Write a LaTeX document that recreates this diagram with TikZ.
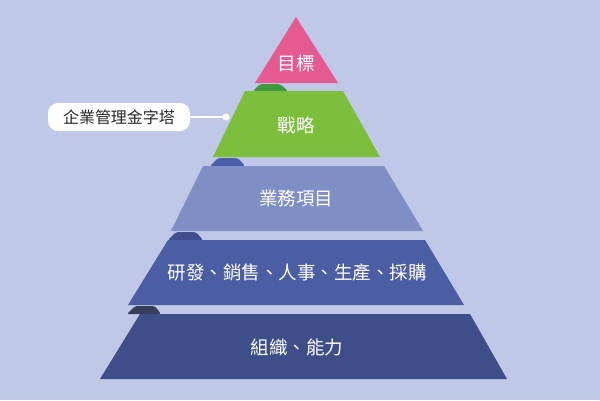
\documentclass[tikz,border=0pt]{standalone}
\usepackage{fontspec}
\setmainfont{Noto Sans CJK TC}
\begin{document}
\begin{tikzpicture}[x=1pt,y=-1pt,
  lbl/.style={text=white,font=\fontsize{18.5}{18.5}\selectfont},
  shadow/.style={rounded corners=2pt}]
\definecolor{bg}{HTML}{BFC8E6}
\definecolor{pinkc}{HTML}{E65A92}
\definecolor{greenc}{HTML}{7DBE3C}
\definecolor{dgreen}{HTML}{3E9A3A}
\definecolor{lblue}{HTML}{7F8EC4}
\definecolor{mblue}{HTML}{4B5EA4}
\definecolor{nblue}{HTML}{3D4E88}
\definecolor{sh1}{HTML}{4A5DA8}
\definecolor{sh2}{HTML}{3E4E8E}
\definecolor{sh3}{HTML}{383F5C}
\fill[bg] (0,0) rectangle (600,400);
\useasboundingbox (0,0) rectangle (600,400);
% shadows
\fill[dgreen,shadow] (253,91) -- (260,84) -- (280,84) -- (288,91) -- cycle;
\fill[sh1,shadow] (210,166) -- (218,158) -- (238,158) -- (245,166) -- cycle;
\fill[sh2,shadow] (168,240) -- (176,232) -- (196,232) -- (203,240) -- cycle;
\fill[sh3,shadow] (127,314) -- (135,306) -- (155,306) -- (161,314) -- cycle;
% layers
\fill[pinkc] (296,17) -- (338,83) -- (255,83) -- cycle;
\fill[greenc] (245,91) -- (343,91) -- (380,157) -- (213,157) -- cycle;
\fill[lblue] (203,166) -- (384,166) -- (423,231) -- (171,231) -- cycle;
\fill[mblue] (168,240) -- (425,240) -- (464,305) -- (128,305) -- cycle;
\fill[nblue] (140,314) -- (470,314) -- (507,379) -- (100,379) -- cycle;
% labels
\node[lbl] (t1) at (296,63) {目標};
\node[lbl] (t2) at (296,125) {戰略};
\node[lbl] (t3) at (296,198) {業務項目};
\node[lbl] (t4) at (297,272) {研發、銷售、人事、生產、採購};
\node[lbl] (t5) at (297,347) {組織、能力};
% callout
\node[fill=white,rounded corners=10pt,minimum width=142pt,minimum height=28pt,
  font=\fontsize{16}{16}\selectfont,text=black!85] (call) at (119,117) {企業管理金字塔};
\coordinate (dot) at (226,117);
\draw[white,line width=1.2pt] (call.east) -- (dot);
\fill[white] (dot) circle (3.5pt);
\end{tikzpicture}
\end{document}
